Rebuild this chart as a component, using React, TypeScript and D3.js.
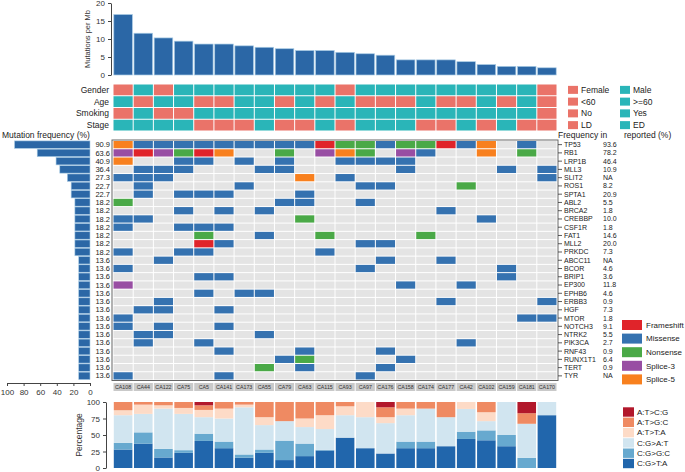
import React, { useEffect, useRef } from "react";
import * as d3 from "d3";

// samples, ordered by mutation burden
const samples = [
  "CA108", "CA44", "CA122", "CA75", "CA5", "CA141", "CA173", "CA55", "CA79", "CA63", "CA115",
  "CA93", "CA97", "CA176", "CA158", "CA174", "CA177", "CA42", "CA102", "CA159", "CA181", "CA170",
];
const mutationsPerMb = [16.8, 11.6, 10.3, 9.4, 8.6, 8.6, 8.1, 7.7, 7.3, 6.8, 6.8, 6.3, 5.9, 5.5, 4.2, 4.2, 4.2, 3.7, 2.9, 2.4, 2.4, 2.0];

// clinical tracks: 0 = first level (salmon), 1 = second level (teal)
const tracks = ["Gender", "Age", "Smoking", "Stage"];
const trackLevels = [["Female", "Male"], ["<60", ">=60"], ["No", "Yes"], ["LD", "ED"]];
const gender = [0, 1, 0, 1, 1, 1, 1, 1, 1, 1, 1, 0, 1, 1, 1, 1, 1, 1, 1, 1, 1, 0];
const age = [1, 0, 1, 1, 0, 0, 1, 1, 0, 1, 0, 1, 0, 0, 0, 1, 0, 0, 1, 0, 1, 0];
const smoking = [0, 1, 0, 0, 1, 1, 1, 1, 1, 1, 1, 1, 1, 1, 1, 1, 1, 1, 1, 1, 1, 0];
const stage = [1, 1, 1, 1, 0, 0, 0, 1, 0, 0, 1, 0, 1, 1, 1, 0, 0, 1, 0, 1, 0, 0];

// mutation matrix: one string per gene, one char per sample
// M missense, F frameshift, N nonsense, 3 splice-3, 5 splice-5, . none
const genes = [
  "TP53", "RB1", "LRP1B", "MLL3", "SLIT2", "ROS1", "SPTA1", "ABL2", "BRCA2", "CREBBP",
  "CSF1R", "FAT1", "MLL2", "PRKDC", "ABCC11", "BCOR", "BRIP1", "EP300", "EPHB6", "ERBB3",
  "HGF", "MTOR", "NOTCH3", "NTRK2", "PIK3CA", "RNF43", "RUNX1T1", "TERT", "TYR",
];
const calls = [
  "5MMMMMMMMMFNNMNNFM5.M.",
  "3F3NF5..N.35N.3M..5.N.",
  "5..MM.M.M..MMMM.......",
  ".MMM...MM.....M....M.M",
  "MMM......5.M.........M",
  ".M....M.....MM...N....",
  ".M.MMM...M............",
  "N.......MM..M.........",
  "...M.M.M........M.....",
  "MM.......N........M...",
  "M..MMM................",
  "....N..M..N....N......",
  "....FM......MM........",
  "M..MM.....M...........",
  "..M..........M..M.....",
  "M...........M......M..",
  "....MM.............M..",
  "3.............M..M....",
  "....M.MM..............",
  "..M.............M....M",
  ".MM..M................",
  "M...................MM",
  "M.M..M................",
  ".MM....M..............",
  ".M..M............M....",
  ".....M...M...M........",
  "........MN....M.......",
  ".......N.M...M........",
  "M....M......M.........",
];
const mutationFreq = [90.9, 63.6, 40.9, 36.4, 27.3, 22.7, 22.7, 18.2, 18.2, 18.2, 18.2, 18.2, 18.2, 18.2,
  13.6, 13.6, 13.6, 13.6, 13.6, 13.6, 13.6, 13.6, 13.6, 13.6, 13.6, 13.6, 13.6, 13.6, 13.6];
const reportedFreq = ["93.6", "78.2", "46.4", "10.9", "NA", "8.2", "20.9", "5.5", "1.8", "10.0",
  "1.8", "14.6", "20.0", "7.3", "NA", "4.6", "3.6", "11.8", "4.6", "0.9",
  "7.3", "1.8", "9.1", "5.5", "2.7", "0.9", "6.4", "0.9", "NA"];

const mutTypes = ["Frameshift", "Missense", "Nonsense", "Splice-3", "Splice-5"];
const mutCodes = ["F", "M", "N", "3", "5"];
const mutColors = ["#e0242a", "#3572b0", "#4aa947", "#984ea3", "#f8801e"];

// base substitution spectrum (%) per sample
const spectrumClasses = ["C:G>T:A", "C:G>G:C", "C:G>A:T", "A:T>T:A", "A:T>G:C", "A:T>C:G"];
const cgTA = [28, 37, 16, 23, 41, 30, 15.5, 23, 12, 18, 26.5, 46, 30, 22, 30, 30, 33, 44, 42, 33, 0, 80];
const cgGC = [10, 17, 13, 4, 11, 10, 5, 5, 29.5, 19, 1, 0, 0, 0, 10, 10, 0, 11, 15, 17, 15.5, 0];
const cgAT = [42, 28, 61, 55, 25, 35, 71.5, 37, 29.5, 25, 31.5, 34, 47, 46, 40, 50, 44, 34.5, 14, 50, 51.5, 20];
const atTA = [7.5, 14, 5, 9, 11, 15, 4, 12, 0, 13, 21, 13.5, 23, 9, 10, 0, 0, 10.5, 13.5, 0, 0, 0];
const atGC = [12.5, 4, 5, 9, 7, 10, 4, 23, 29, 25, 20, 6.5, 0, 15, 10, 10, 23, 0, 15.5, 0, 16, 0];
const atCG = [0, 0, 0, 0, 5, 0, 0, 0, 0, 0, 0, 0, 0, 8, 0, 0, 0, 0, 0, 0, 17, 0];
const spectrumColors = ["#2166ac", "#67a9cf", "#d1e5f0", "#fddbc7", "#ef8a62", "#b2182b"];

const W = 685;
const H = 472;
const FONT = "Liberation Sans, Arial, sans-serif";
const BAR_BLUE = "#2b67a6";
const LEVEL_COLORS = ["#ea7369", "#2ab5b8"];

export default function App() {
  const svgRef = useRef<SVGSVGElement>(null);

  useEffect(() => {
    if (!svgRef.current) return;
    const svg = d3.select(svgRef.current);
    svg.selectAll("*").remove();
    svg.attr("font-family", FONT);

    const x = d3.scaleBand<string>().domain(samples).range([113, 557]);
    const bw = x.bandwidth();

    // --- mutations per Mb ---
    const yTop = d3.scaleLinear().domain([0, 20]).range([75, 3]);
    svg.append("g")
      .selectAll("rect")
      .data(samples)
      .enter()
      .append("rect")
      .attr("x", (d) => x(d)! + 0.8)
      .attr("width", bw - 1.6)
      .attr("y", (_, i) => yTop(mutationsPerMb[i]))
      .attr("height", (_, i) => yTop(0) - yTop(mutationsPerMb[i]))
      .attr("fill", BAR_BLUE)
      .attr("stroke", "#a8cbe4")
      .attr("stroke-width", 0.7);

    const topAxis = svg.append("g")
      .attr("transform", "translate(111,0)")
      .call(d3.axisLeft(yTop).tickValues([0, 5, 10, 15, 20]).tickSize(3).tickSizeOuter(0));
    styleAxis(topAxis, 8);

    svg.append("text")
      .attr("transform", "translate(90,39) rotate(-90)")
      .attr("text-anchor", "middle")
      .attr("font-size", 7.5)
      .attr("fill", "#333")
      .text("Mutations per Mb");

    // --- clinical tracks ---
    const yTrack = d3.scaleBand<string>().domain(tracks).range([84, 131]);
    const trackData = [gender, age, smoking, stage];
    tracks.forEach((t, ti) => {
      svg.append("g")
        .selectAll("rect")
        .data(samples)
        .enter()
        .append("rect")
        .attr("x", (d) => x(d)! + 0.5)
        .attr("width", bw - 1)
        .attr("y", yTrack(t)! + 0.5)
        .attr("height", yTrack.bandwidth() - 1)
        .attr("fill", (_, i) => LEVEL_COLORS[trackData[ti][i]]);

      svg.append("text")
        .attr("x", 109)
        .attr("y", yTrack(t)! + yTrack.bandwidth() / 2)
        .attr("dy", "0.35em")
        .attr("text-anchor", "end")
        .attr("font-size", 8.5)
        .attr("fill", "#222")
        .text(t);

      // legend
      trackLevels[ti].forEach((lvl, li) => {
        const lx = li === 0 ? 568 : 620;
        const cy = yTrack(t)! + yTrack.bandwidth() / 2;
        svg.append("rect")
          .attr("x", lx)
          .attr("y", cy - 4)
          .attr("width", 10)
          .attr("height", 8)
          .attr("fill", LEVEL_COLORS[li]);
        svg.append("text")
          .attr("x", lx + 13)
          .attr("y", cy)
          .attr("dy", "0.35em")
          .attr("font-size", 8.5)
          .attr("fill", "#222")
          .text(lvl);
      });
    });

    // --- mutation matrix ---
    const yGene = d3.scaleBand<string>().domain(genes).range([140.5, 380]);
    const bh = yGene.bandwidth();
    const colorOf = (c: string) => {
      const k = mutCodes.indexOf(c);
      return k < 0 ? "#e4e4e4" : mutColors[k];
    };

    genes.forEach((g, gi) => {
      svg.append("g")
        .selectAll("rect")
        .data(samples)
        .enter()
        .append("rect")
        .attr("x", (d) => x(d)! + 0.5)
        .attr("width", bw - 1)
        .attr("y", yGene(g)! + 0.5)
        .attr("height", bh - 1)
        .attr("fill", (_, i) => colorOf(calls[gi][i]));
    });

    svg.append("rect")
      .attr("x", 112)
      .attr("y", 140)
      .attr("width", 446)
      .attr("height", 240.5)
      .attr("fill", "none")
      .attr("stroke", "#666")
      .attr("stroke-width", 1);

    // gene labels + reported frequencies
    genes.forEach((g, gi) => {
      const cy = yGene(g)! + bh / 2;
      svg.append("line")
        .attr("x1", 558).attr("x2", 562)
        .attr("y1", cy).attr("y2", cy)
        .attr("stroke", "#333").attr("stroke-width", 0.8);
      svg.append("text")
        .attr("x", 564)
        .attr("y", cy)
        .attr("dy", "0.35em")
        .attr("font-size", 7)
        .attr("fill", "#222")
        .text(g);
      svg.append("text")
        .attr("x", 603)
        .attr("y", cy)
        .attr("dy", "0.35em")
        .attr("font-size", 7)
        .attr("fill", "#222")
        .text(reportedFreq[gi]);
    });

    svg.append("text").attr("x", 558).attr("y", 138).attr("font-size", 8.5).attr("fill", "#222").text("Frequency in");
    svg.append("text").attr("x", 624).attr("y", 138).attr("font-size", 8.5).attr("fill", "#222").text("reported (%)");
    svg.append("text").attr("x", 2).attr("y", 138).attr("font-size", 8.5).attr("fill", "#222").text("Mutation frequency (%)");

    // left frequency bars
    const xFreq = d3.scaleLinear().domain([0, 100]).range([90, 7]);
    svg.append("g")
      .selectAll("rect")
      .data(genes)
      .enter()
      .append("rect")
      .attr("x", (_, i) => xFreq(mutationFreq[i]))
      .attr("width", (_, i) => xFreq(0) - xFreq(mutationFreq[i]))
      .attr("y", (d) => yGene(d)! + 0.4)
      .attr("height", bh - 0.8)
      .attr("fill", BAR_BLUE)
      .attr("stroke", "#a8cbe4")
      .attr("stroke-width", 0.6);
    svg.append("g")
      .selectAll("text")
      .data(genes)
      .enter()
      .append("text")
      .attr("x", 110)
      .attr("y", (d) => yGene(d)! + bh / 2)
      .attr("dy", "0.35em")
      .attr("text-anchor", "end")
      .attr("font-size", 7.5)
      .attr("fill", "#222")
      .text((_, i) => mutationFreq[i].toFixed(1));

    const freqAxis = svg.append("g")
      .attr("transform", "translate(0,383)")
      .call(d3.axisBottom(xFreq).tickValues([0, 20, 40, 60, 80, 100]).tickSize(3).tickSizeOuter(0));
    styleAxis(freqAxis, 8);

    // sample labels
    samples.forEach((s) => {
      svg.append("rect")
        .attr("x", x(s)! + 0.5)
        .attr("y", 383)
        .attr("width", bw - 1)
        .attr("height", 8)
        .attr("fill", "#c9c9c9");
      svg.append("text")
        .attr("x", x(s)! + bw / 2)
        .attr("y", 387.2)
        .attr("dy", "0.35em")
        .attr("text-anchor", "middle")
        .attr("font-size", 5.3)
        .attr("fill", "#333")
        .text(s);
    });

    // mutation type legend
    mutTypes.forEach((m, i) => {
      const cy = 325 + i * 13.6;
      svg.append("rect")
        .attr("x", 622).attr("y", cy - 5)
        .attr("width", 20).attr("height", 10)
        .attr("fill", mutColors[i]);
      svg.append("text")
        .attr("x", 646).attr("y", cy)
        .attr("dy", "0.35em")
        .attr("font-size", 8)
        .attr("fill", "#222")
        .text(m);
    });

    // --- substitution spectrum ---
    const spectrumSeries = [cgTA, cgGC, cgAT, atTA, atGC, atCG];
    const table = samples.map((s, i) => {
      const row: Record<string, number | string> = { sample: s };
      spectrumClasses.forEach((c, ci) => (row[c] = spectrumSeries[ci][i]));
      return row;
    });
    const stacked = d3.stack<Record<string, number | string>>().keys(spectrumClasses)(table);
    const yPct = d3.scaleLinear().domain([0, 100]).range([468, 402]);

    svg.append("g")
      .selectAll("g")
      .data(stacked)
      .enter()
      .append("g")
      .attr("fill", (_, i) => spectrumColors[i])
      .selectAll("rect")
      .data((d) => d)
      .enter()
      .append("rect")
      .attr("x", (d) => x(d.data.sample as string)! + 0.8)
      .attr("width", bw - 1.6)
      .attr("y", (d) => yPct(d[1]))
      .attr("height", (d) => yPct(d[0]) - yPct(d[1]));

    const pctAxis = svg.append("g")
      .attr("transform", "translate(106,0)")
      .call(d3.axisLeft(yPct).tickValues([0, 25, 50, 75, 100]).tickSize(3).tickSizeOuter(0));
    styleAxis(pctAxis, 8);

    svg.append("text")
      .attr("transform", "translate(82,435) rotate(-90)")
      .attr("text-anchor", "middle")
      .attr("font-size", 8.5)
      .attr("fill", "#333")
      .text("Percentage");

    const legendOrder = [...spectrumClasses].reverse();
    legendOrder.forEach((c, i) => {
      const cy = 412 + i * 10.3;
      svg.append("rect")
        .attr("x", 623).attr("y", cy - 4.7)
        .attr("width", 11).attr("height", 9.4)
        .attr("fill", spectrumColors[spectrumClasses.indexOf(c)]);
      svg.append("text")
        .attr("x", 637).attr("y", cy)
        .attr("dy", "0.35em")
        .attr("font-size", 8)
        .attr("fill", "#222")
        .text(c);
    });
  }, []);

  return (
    <svg
      ref={svgRef}
      width={W}
      height={H}
      style={{ position: "absolute", left: 0, top: 0, background: "#fff" }}
    />
  );
}

function styleAxis(g: d3.Selection<SVGGElement, unknown, null, undefined>, size: number) {
  g.selectAll("path").attr("stroke", "#444");
  g.selectAll("line").attr("stroke", "#444");
  g.selectAll("text").attr("font-size", size).attr("fill", "#333").attr("font-family", FONT);
}
